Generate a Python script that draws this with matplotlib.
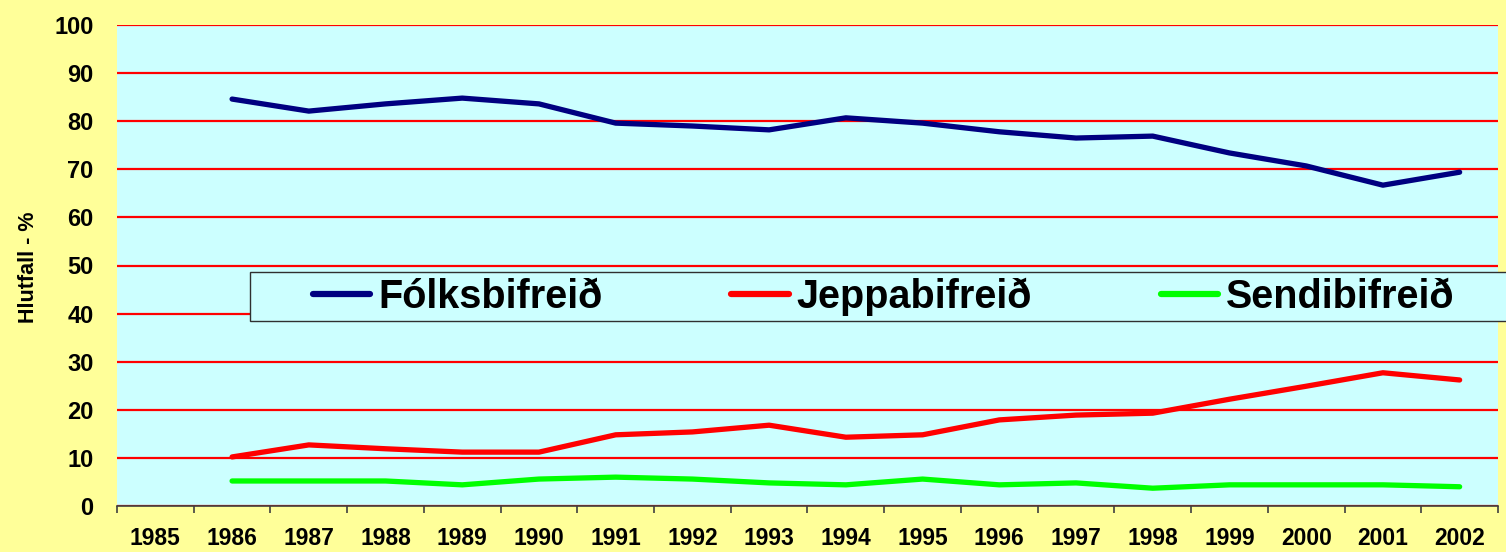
import numpy as np
import matplotlib
matplotlib.use("Agg")
import matplotlib.pyplot as plt
from matplotlib.patches import Rectangle

plt.rcParams['font.family'] = ['Liberation Sans', 'DejaVu Sans']
plt.rcParams['font.weight'] = 'bold'

# gögn
years = [str(y) for y in range(1985, 2003)]
data_years = list(range(1986, 2003))
folks = [84.6, 82.1, 83.6, 84.8, 83.6, 79.6, 79.0, 78.2, 80.7, 79.6,
         77.8, 76.5, 76.9, 73.4, 70.7, 66.7, 69.4]
jeppa = [10.2, 12.7, 11.9, 11.2, 11.2, 14.8, 15.4, 16.8, 14.3, 14.8,
         17.9, 18.9, 19.3, 22.2, 24.9, 27.7, 26.2]
sendi = [5.2, 5.2, 5.2, 4.4, 5.6, 6.0, 5.6, 4.8, 4.4, 5.6,
         4.4, 4.8, 3.7, 4.4, 4.4, 4.4, 4.0]
series_names = ['Fólksbifreið', 'Jeppabifreið', 'Sendibifreið']
series_colors = ['#000080', '#FF0000', '#00FF00']

fig = plt.figure(figsize=(15.06, 5.52), dpi=100, facecolor='#FFFF99')
ax = fig.add_axes([117 / 1506, 46 / 552, 1381 / 1506, 481 / 552])
ax.set_facecolor('#CCFFFF')

x = np.array([years.index(str(y)) for y in data_years])
for vals, name, col in zip([folks, jeppa, sendi], series_names, series_colors):
    ax.plot(x, vals, color=col, lw=3.8, label=name, solid_capstyle='round',
            solid_joinstyle='round', zorder=3)

ax.set_xlim(-0.5, len(years) - 0.5)
ax.set_ylim(0, 100)
ax.set_yticks(range(0, 101, 10))
ax.yaxis.grid(True, color='#FF0000', lw=1.6)
ax.set_axisbelow(True)

ax.set_xticks(range(len(years)))
ax.set_xticklabels(years)
ax.set_xticks(np.arange(-0.5, len(years)), minor=True)
ax.tick_params(axis='x', which='major', length=0, pad=15, labelsize=16.5)
ax.tick_params(axis='x', which='minor', length=5, width=1.2, color='#404040', direction='out')
ax.tick_params(axis='y', length=0, pad=17, labelsize=17)

for s in ['left', 'right', 'top']:
    ax.spines[s].set_visible(False)
ax.spines['bottom'].set_color('#404040')
ax.spines['bottom'].set_linewidth(1.2)

ax.set_ylabel('Hlutfall - %', fontsize=15.5, fontweight='bold')
ax.yaxis.set_label_coords(-0.0565, 0.497)

# legend kassi nær út fyrir hægri brún
box = Rectangle((133 / 1381, 0.385), 1.0, 0.101, transform=ax.transAxes,
                facecolor='#CCFFFF', edgecolor='#303030', lw=1.0,
                clip_on=False, zorder=4)
ax.add_patch(box)
leg = ax.legend(ncol=3, loc='center left',
                bbox_to_anchor=((313 - 117) / 1381, 0.4355),
                borderaxespad=0, borderpad=0, frameon=False,
                handlelength=1.45, handletextpad=0.2, columnspacing=3.25,
                prop={'size': 28.5, 'weight': 'bold'})
leg.set_zorder(5)
for line in leg.get_lines():
    line.set_linewidth(4.5)

fig.savefig('out.png', dpi=100, facecolor=fig.get_facecolor())
